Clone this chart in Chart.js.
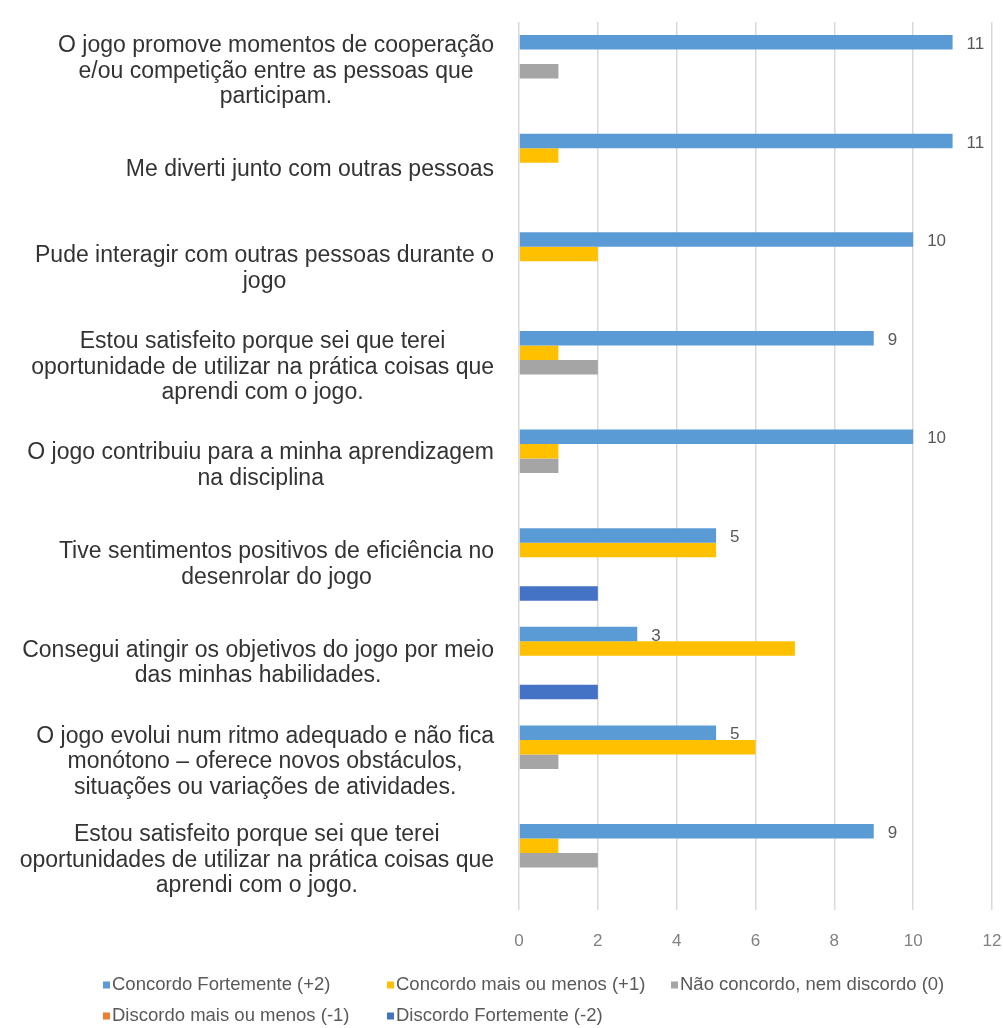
<!DOCTYPE html>
<html>
<head>
<meta charset="utf-8">
<script src="https://cdn.jsdelivr.net/npm/chart.js@4.4.1/dist/chart.umd.min.js"></script>
<style>
  html, body { margin: 0; padding: 0; background: #fff; }
  #wrap { width: 1003px; height: 1028px; position: relative; }
</style>
</head>
<body>
<div id="wrap"><canvas id="chart"></canvas></div>
<script>
// perguntas (cada linha = uma linha do rótulo)
const categories = [
  ["O jogo promove momentos de cooperação", "e/ou competição entre as pessoas que", "participam."],
  ["Me diverti junto com outras pessoas"],
  ["Pude interagir com outras pessoas durante o", "jogo"],
  ["Estou satisfeito porque sei que terei", "oportunidade de utilizar na prática coisas que", "aprendi com o jogo."],
  ["O jogo contribuiu para a minha aprendizagem", "na disciplina"],
  ["Tive sentimentos positivos de eficiência no", "desenrolar do jogo"],
  ["Consegui atingir os objetivos do jogo por meio", "das minhas habilidades."],
  ["O jogo evolui num ritmo adequado e não fica", "monótono – oferece novos obstáculos,", "situações ou variações de atividades."],
  ["Estou satisfeito porque sei que terei", "oportunidades de utilizar na prática coisas que", "aprendi com o jogo."]
];

const seriesNames = [
  "Concordo Fortemente (+2)",
  "Concordo mais ou menos (+1)",
  "Não concordo, nem discordo (0)",
  "Discordo mais ou menos (-1)",
  "Discordo Fortemente (-2)"
];

const concordoFortemente   = [11, 11, 10, 9, 10, 5, 3, 5, 9];
const concordoMaisOuMenos  = [0, 1, 2, 1, 1, 5, 7, 6, 1];
const naoConcordo          = [1, 0, 0, 2, 1, 0, 0, 1, 2];
const discordoMaisOuMenos  = [0, 0, 0, 0, 0, 0, 0, 0, 0];
const discordoFortemente   = [0, 0, 0, 0, 0, 2, 2, 0, 0];

const xMin = 0, xMax = 12, xStep = 2;

const colors = ["#5b9bd5", "#ffc000", "#a5a5a5", "#ed7d31", "#4472c4"];
const FONT = '"Liberation Sans", Arial, sans-serif';

// rótulos das perguntas: bloco alinhado à direita, linhas centralizadas
const categoryLabels = {
  id: 'categoryLabels',
  afterDraw(chart) {
    const ctx = chart.ctx;
    const y = chart.scales.y;
    const right = chart.chartArea.left - 25;
    ctx.save();
    ctx.font = '23px ' + FONT;
    ctx.fillStyle = '#333333';
    ctx.textAlign = 'center';
    ctx.textBaseline = 'middle';
    chart.data.labels.forEach((lines, i) => {
      const block = Math.max(...lines.map(l => ctx.measureText(l).width));
      const cx = right - block / 2;
      const cy = y.getPixelForValue(i);
      lines.forEach((l, k) => {
        ctx.fillText(l, cx, cy + (k - (lines.length - 1) / 2) * 25.5);
      });
    });
    ctx.restore();
  }
};

// valores só na primeira série
const valueLabels = {
  id: 'valueLabels',
  afterDatasetsDraw(chart) {
    const ctx = chart.ctx;
    const meta = chart.getDatasetMeta(0);
    const data = chart.data.datasets[0].data;
    ctx.save();
    ctx.font = '17px ' + FONT;
    ctx.fillStyle = '#595959';
    ctx.textAlign = 'left';
    ctx.textBaseline = 'middle';
    meta.data.forEach((bar, i) => {
      ctx.fillText(String(data[i]), bar.x + 14, bar.y + 2);
    });
    ctx.restore();
  }
};

// legenda em grade (como no Excel)
const gridLegend = {
  id: 'gridLegend',
  afterDraw(chart) {
    const ctx = chart.ctx;
    const cols = 3, colWidth = 284, x0 = 103, y0 = 985, rowGap = 31, box = 7;
    ctx.save();
    ctx.font = '18.5px ' + FONT;
    ctx.textAlign = 'left';
    ctx.textBaseline = 'middle';
    chart.data.datasets.forEach((ds, i) => {
      const x = x0 + (i % cols) * colWidth;
      const yy = y0 + Math.floor(i / cols) * rowGap;
      ctx.fillStyle = ds.backgroundColor;
      ctx.fillRect(x, yy - box / 2, box, box);
      ctx.fillStyle = '#595959';
      ctx.fillText(ds.label, x + box + 2, yy);
    });
    ctx.restore();
  }
};

const seriesData = [concordoFortemente, concordoMaisOuMenos, naoConcordo, discordoMaisOuMenos, discordoFortemente];

new Chart(document.getElementById('chart'), {
  type: 'bar',
  data: {
    labels: categories,
    datasets: seriesNames.map((name, i) => ({
      label: name,
      data: seriesData[i],
      backgroundColor: colors[i],
      borderWidth: 0,
      barPercentage: 1.0,
      categoryPercentage: 0.735
    }))
  },
  options: {
    indexAxis: 'y',
    responsive: true,
    maintainAspectRatio: false,
    animation: false,
    layout: { padding: { left: 0, right: 11, top: 22, bottom: 54 } },
    plugins: {
      legend: { display: false },
      tooltip: { enabled: false }
    },
    scales: {
      x: {
        min: xMin,
        max: xMax,
        ticks: {
          stepSize: xStep,
          color: '#808080',
          font: { family: FONT, size: 17, lineHeight: 1.2 },
          padding: 22
        },
        grid: { color: '#d9d9d9', lineWidth: 1.5, drawTicks: false },
        border: { display: false },
        afterFit(scale) { scale.paddingLeft = 0; scale.paddingRight = 0; }
      },
      y: {
        ticks: { display: false },
        grid: { display: false },
        border: { display: false },
        afterFit(scale) { scale.width = 519; }
      }
    }
  },
  plugins: [categoryLabels, valueLabels, gridLegend]
});
</script>
</body>
</html>
